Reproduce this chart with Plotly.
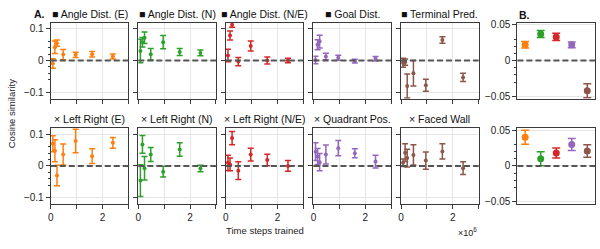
import plotly.graph_objects as go

W, H = 600, 249

# ---------------- data ----------------
STEPS = [8e4, 1.6e5, 2.4e5, 4.8e5, 9.6e5, 1.6e6, 2.4e6]
COLORS = ["#ff7f0e", "#2ca02c", "#d62728", "#9467bd", "#8c564b"]

TOP_TITLES = ["■ Angle Dist. (E)", "■ Angle Dist. (N)", "■ Angle Dist. (N/E)",
              "■ Goal Dist.", "■ Terminal Pred."]
BOT_TITLES = ["× Left Right (E)", "× Left Right (N)", "× Left Right (N/E)",
              "× Quadrant Pos.", "× Faced Wall"]

top_orange = [-0.009, 0.042, 0.055, 0.019, 0.018, 0.020, 0.013]
top_orange_err = [0.015, 0.020, 0.010, 0.016, 0.008, 0.009, 0.008]
top_green = [0.030, 0.058, 0.072, 0.020, 0.058, 0.027, 0.024]
top_green_err = [0.037, 0.015, 0.018, 0.018, 0.021, 0.011, 0.009]
top_red = [0.016, 0.079, 0.113, -0.003, 0.046, 0.000, 0.000]
top_red_err = [0.020, 0.014, 0.008, 0.013, 0.016, 0.011, 0.007]
top_purple = [0.002, 0.050, 0.060, 0.013, 0.009, -0.002, 0.006]
top_purple_err = [0.012, 0.016, 0.020, 0.010, 0.008, 0.006, 0.007]
top_brown = [-0.007, -0.005, -0.080, -0.040, -0.078, 0.065, -0.053]
top_brown_err = [0.014, 0.010, 0.038, 0.040, 0.019, 0.010, 0.013]

bot_orange = [0.070, 0.048, -0.030, 0.036, 0.079, 0.031, 0.073]
bot_orange_err = [0.025, 0.035, 0.032, 0.033, 0.037, 0.023, 0.017]
bot_green = [-0.046, 0.068, -0.007, 0.036, -0.018, 0.052, -0.008]
bot_green_err = [0.050, 0.028, 0.037, 0.022, 0.017, 0.021, 0.010]
bot_red = [0.010, 0.005, 0.088, -0.015, 0.036, 0.019, 0.000]
bot_red_err = [0.024, 0.020, 0.021, 0.028, 0.020, 0.018, 0.017]
bot_purple = [0.045, 0.030, 0.012, 0.036, 0.056, 0.040, 0.014]
bot_purple_err = [0.028, 0.025, 0.027, 0.030, 0.024, 0.014, 0.020]
bot_brown = [0.010, 0.042, 0.025, 0.035, 0.017, 0.046, -0.007]
bot_brown_err = [0.012, 0.028, 0.028, 0.032, 0.027, 0.024, 0.020]

B_CATS = [0, 1, 2, 3, 4]
B_top = [0.022, 0.037, 0.033, 0.022, -0.042]
B_top_err = [0.0046, 0.005, 0.005, 0.004, 0.0097]
B_bot = [0.040, 0.010, 0.018, 0.030, 0.021]
B_bot_err = [0.0099, 0.0097, 0.007, 0.0083, 0.0087]

X_TICKS = [0, 2e6]
X_TICKTEXT = ["0", "2"]
X_MINOR = [1e6, 3e6]
A_YTICKS = [-0.1, 0, 0.1]
A_YTICKTEXT = ["−0.1", "0", "0.1"]
B_YTICKS = [-0.05, 0, 0.05]
B_YTICKTEXT = ["−0.05", "0", "0.05"]

TOP = [(top_orange, top_orange_err), (top_green, top_green_err), (top_red, top_red_err),
       (top_purple, top_purple_err), (top_brown, top_brown_err)]
BOT = [(bot_orange, bot_orange_err), (bot_green, bot_green_err), (bot_red, bot_red_err),
       (bot_purple, bot_purple_err), (bot_brown, bot_brown_err)]

# ---------------- layout geometry (pixels) ----------------
A_X = [(48, 126), (136, 214), (224, 302), (312, 390), (400, 478)]
B_XPIX = (517, 595)
ROWS = [(20, 98), (128, 206)]

def xd(a, b):
    return [a / W, b / W]

def yd(t, b):
    return [(H - b) / H, (H - t) / H]

FONT = "Liberation Sans, Arial, Helvetica, sans-serif"
AX_COL = "#3a3a3a"
GRID = "#e6e6e6"

fig = go.Figure()
layout = dict(width=W, height=H, margin=dict(l=0, r=0, t=0, b=0), autosize=False,
              paper_bgcolor="white", plot_bgcolor="white", showlegend=False,
              font=dict(family=FONT, size=9.5, color="#222"))
shapes = []
annotations = []

ax_i = 0
for r, (rt, rb) in enumerate(ROWS):
    data = TOP if r == 0 else BOT
    titles = TOP_TITLES if r == 0 else BOT_TITLES
    for c in range(5):
        ax_i += 1
        xk = "xaxis" if ax_i == 1 else f"xaxis{ax_i}"
        yk = "yaxis" if ax_i == 1 else f"yaxis{ax_i}"
        xr = "x" if ax_i == 1 else f"x{ax_i}"
        yr = "y" if ax_i == 1 else f"y{ax_i}"
        vals, errs = data[c]
        fig.add_trace(go.Scatter(
            x=STEPS, y=vals, mode="markers", xaxis=xr, yaxis=yr,
            marker=dict(color=COLORS[c], size=4),
            error_y=dict(type="data", array=errs, color=COLORS[c], thickness=1.5, width=3)))
        layout[xk] = dict(domain=xd(*A_X[c]), anchor=yr, range=[0, 3e6],
                          tickvals=X_TICKS, ticktext=X_TICKTEXT,
                          showticklabels=(r == 1), ticks="outside", ticklen=4,
                          tickcolor=AX_COL, tickwidth=1,
                          minor=dict(tickvals=X_MINOR, ticks="outside", ticklen=4,
                                     tickcolor=AX_COL, showgrid=True, gridcolor=GRID),
                          showline=True, mirror=True, linecolor=AX_COL, linewidth=1.2,
                          showgrid=True, gridcolor=GRID, gridwidth=1, zeroline=False,
                          tickfont=dict(size=10))
        ydict = dict(domain=yd(rt, rb), anchor=xr, range=[-0.12, 0.12],
                     tickvals=A_YTICKS, ticktext=A_YTICKTEXT,
                     showticklabels=(c == 0), ticks="outside", ticklen=4,
                     tickcolor=AX_COL, tickwidth=1,
                     showline=True, mirror=True, linecolor=AX_COL, linewidth=1.2,
                     showgrid=True, gridcolor=GRID, gridwidth=1, zeroline=False,
                     tickfont=dict(size=10))
        if c == 0:
            ydict["minor"] = dict(tickvals=[-0.06, -0.04, -0.02, 0.02, 0.04, 0.06],
                                  ticks="outside", ticklen=2, tickcolor=AX_COL,
                                  showgrid=False)
        layout[yk] = ydict
        shapes.append(dict(type="line", xref=f"{xr} domain", yref=yr, x0=0, x1=1,
                           y0=0, y1=0, line=dict(color="#555555", width=2, dash="6px,3px"),
                           layer="above"))
        annotations.append(dict(text=titles[c], xref="paper", yref="paper",
                                x=(A_X[c][0] + A_X[c][1]) / 2 / W,
                                y=(H - (11 if r == 0 else 119)) / H,
                                xanchor="center", yanchor="middle", showarrow=False,
                                font=dict(size=10.5, color="#111")))
    # panel B for this row
    ax_i += 1
    xk, yk = f"xaxis{ax_i}", f"yaxis{ax_i}"
    xr, yr = f"x{ax_i}", f"y{ax_i}"
    bv, be = (B_top, B_top_err) if r == 0 else (B_bot, B_bot_err)
    for k in range(5):
        fig.add_trace(go.Scatter(
            x=[B_CATS[k]], y=[bv[k]], mode="markers", xaxis=xr, yaxis=yr,
            marker=dict(color=COLORS[k], size=7),
            error_y=dict(type="data", array=[be[k]], color=COLORS[k], thickness=1.5, width=4)))
    layout[xk] = dict(domain=xd(*B_XPIX), anchor=yr, range=[-0.5, 4.5],
                      showticklabels=False, ticks="", showgrid=False, zeroline=False,
                      showline=True, mirror=True, linecolor=AX_COL, linewidth=1.2)
    layout[yk] = dict(domain=yd(rt, rb), anchor=xr, range=[-0.053, 0.053],
                      tickvals=B_YTICKS, ticktext=B_YTICKTEXT,
                      ticks="outside", ticklen=4, tickcolor=AX_COL, tickwidth=1,
                      minor=dict(tickvals=[-0.03, -0.02, -0.01, 0.01, 0.02, 0.03],
                                 ticks="outside", ticklen=2, tickcolor=AX_COL, showgrid=False),
                      showline=True, mirror=True, linecolor=AX_COL, linewidth=1.2,
                      showgrid=True, gridcolor=GRID, gridwidth=1, zeroline=False,
                      tickfont=dict(size=10))
    shapes.append(dict(type="line", xref=f"{xr} domain", yref=yr, x0=0, x1=1,
                       y0=0, y1=0, line=dict(color="#555555", width=2, dash="6px,3px"),
                       layer="above"))

annotations += [
    dict(text="<b>A.</b>", xref="paper", yref="paper", x=37 / W, y=(H - 11) / H,
         xanchor="center", yanchor="middle", showarrow=False, font=dict(size=10.5, color="#111")),
    dict(text="<b>B.</b>", xref="paper", yref="paper", x=517 / W, y=(H - 12) / H,
         xanchor="left", yanchor="middle", showarrow=False, font=dict(size=10.5, color="#111")),
    dict(text="Cosine similarity", xref="paper", yref="paper", x=8 / W, y=(H - 113) / H,
         xanchor="center", yanchor="middle", textangle=-90, showarrow=False,
         font=dict(size=9.5, color="#222")),
    dict(text="Time steps trained", xref="paper", yref="paper", x=263 / W, y=(H - 233) / H,
         xanchor="center", yanchor="middle", showarrow=False, font=dict(size=9.5, color="#222")),
    dict(text="×10<sup>6</sup>", xref="paper", yref="paper", x=478 / W, y=(H - 235) / H,
         xanchor="right", yanchor="middle", showarrow=False, font=dict(size=9, color="#222")),
]
layout["shapes"] = shapes
layout["annotations"] = annotations
fig.update_layout(**layout)
fig.write_html("out.html", config={"displayModeBar": False},
               post_script="document.body.style.margin='0';document.body.style.overflow='hidden';")
